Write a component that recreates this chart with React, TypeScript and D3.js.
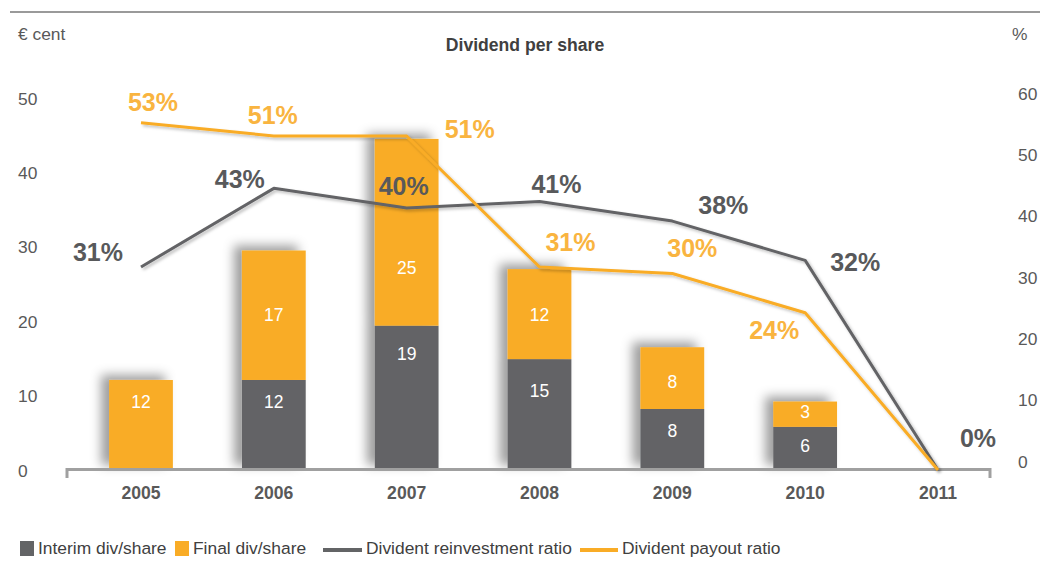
import React from 'react';
import * as d3 from 'd3';

const years = ['2005', '2006', '2007', '2008', '2009', '2010', '2011'];
const interimDiv = [0, 12.1, 19.4, 14.9, 8.2, 5.8, 0];
const finalDiv = [12.1, 17.4, 25.1, 12.1, 8.3, 3.4, 0];
const reinvestmentRatio = [31, 43, 40, 41, 38, 32, 0];
const payoutRatio = [53, 51, 51, 31, 30, 24, 0];
const leftTicks = [0, 10, 20, 30, 40, 50];
const rightTicks = [0, 10, 20, 30, 40, 50, 60];

// layout nudges for labels (not data)
const interimLabelDy = [0, -22, -42, -22, -7, -1, 0];
const finalLabelDy = [-22, 1, 37, 2, 5, -1, 0];
const reinvLabelOffset: ([number, number] | null)[] = [[-43, -13], [-34, -7], [-3, -20], [17, -15], [51, -14], [50, 4], [40, -30]];
const payoutLabelOffset: ([number, number] | null)[] = [[12, -18], [-1, -19], [63, -5], [31, -23], [20, -23], [-31, 20], null];

const GRAY = '#636466';
const ORANGE = '#F9AC26';
const ORANGE_TXT = '#F9B440';
const GRAY_TXT = '#58595B';
const AXIS_TXT = '#595959';
const FONT = '"Liberation Sans", Arial, sans-serif';

export default function App() {
  const W = 1040, H = 571;
  const x = d3.scalePoint<string>().domain(years).range([141, 938]);
  const step = x.step();
  const bw = step * 0.48;
  const yLeft = d3.scaleLinear().domain([0, 50]).range([470, 98]);
  const yPct = d3.scaleLinear().domain([0, 60]).range([470, 77]);
  const yRightTicks = d3.scaleLinear().domain([0, 60]).range([463, 95]);

  const line = d3.line<number>()
    .x((_, i) => x(years[i]) as number)
    .y((v) => yPct(v));

  return (
    <div style={{ position: 'absolute', left: 0, top: 0 }}>
      <svg width={W} height={H} style={{ display: 'block', fontFamily: FONT }}>
        <defs>
          <filter id="barShadow" x="-50%" y="-50%" width="200%" height="200%">
            <feDropShadow dx={-8} dy={-5} stdDeviation={5.5} floodColor="#000" floodOpacity={0.38} />
          </filter>
          <filter id="lineShadow" x="-10%" y="-10%" width="120%" height="120%">
            <feDropShadow dx={2} dy={2} stdDeviation={1.5} floodColor="#000" floodOpacity={0.25} />
          </filter>
        </defs>
        <rect x={0} y={0} width={W} height={H} fill="#fff" />
        <line x1={10} x2={1040} y1={12} y2={12} stroke="#9a9a9a" strokeWidth={2} />

        <text x={18} y={35} fontSize={17.4} fill={AXIS_TXT} dominantBaseline="middle">€ cent</text>
        <text x={1012} y={35} fontSize={17.4} fill={AXIS_TXT} dominantBaseline="middle">%</text>
        <text x={525} y={46} fontSize={17.6} fontWeight="bold" fill="#404040" textAnchor="middle" dominantBaseline="middle">Dividend per share</text>

        {leftTicks.map((t) => (
          <text key={'l' + t} x={18} y={yLeft(t) + 2} fontSize={17.4} fill={AXIS_TXT} dominantBaseline="middle">{t}</text>
        ))}
        {rightTicks.map((t) => (
          <text key={'r' + t} x={1018} y={yRightTicks(t)} fontSize={17.4} fill={AXIS_TXT} dominantBaseline="middle">{t}</text>
        ))}

        {years.map((yr, i) => {
          const cx = x(yr) as number;
          const total = interimDiv[i] + finalDiv[i];
          if (total <= 0) return null;
          return (
            <g key={'b' + yr} filter="url(#barShadow)">
              {interimDiv[i] > 0 && (
                <rect x={cx - bw / 2} y={yLeft(interimDiv[i])} width={bw} height={yLeft(0) - yLeft(interimDiv[i])} fill={GRAY} />
              )}
              {finalDiv[i] > 0 && (
                <rect x={cx - bw / 2} y={yLeft(total)} width={bw} height={yLeft(interimDiv[i]) - yLeft(total)} fill={ORANGE} />
              )}
            </g>
          );
        })}

        {years.map((yr, i) => {
          const cx = x(yr) as number;
          const total = interimDiv[i] + finalDiv[i];
          return (
            <g key={'bl' + yr}>
              {interimDiv[i] > 0 && (
                <text x={cx} y={(yLeft(0) + yLeft(interimDiv[i])) / 2 + interimLabelDy[i]} fontSize={17.5} fill="#fff" textAnchor="middle" dominantBaseline="middle">
                  {Math.round(interimDiv[i])}
                </text>
              )}
              {finalDiv[i] > 0 && (
                <text x={cx} y={(yLeft(interimDiv[i]) + yLeft(total)) / 2 + finalLabelDy[i]} fontSize={17.5} fill="#fff" textAnchor="middle" dominantBaseline="middle">
                  {Math.round(finalDiv[i])}
                </text>
              )}
            </g>
          );
        })}

        {/* x axis */}
        <line x1={67} x2={990} y1={469.5} y2={469.5} stroke="#a0a0a0" strokeWidth={3} />
        <line x1={67} x2={67} y1={468} y2={478} stroke="#a0a0a0" strokeWidth={3} />
        <line x1={990} x2={990} y1={468} y2={478} stroke="#a0a0a0" strokeWidth={3} />
        {years.map((yr) => (
          <text key={'x' + yr} x={x(yr) as number} y={494} fontSize={17.6} fontWeight="bold" fill={AXIS_TXT} textAnchor="middle" dominantBaseline="middle">{yr}</text>
        ))}

        {/* lines */}
        <path d={line(reinvestmentRatio) || ''} fill="none" stroke={GRAY} strokeWidth={3} strokeLinejoin="round" filter="url(#lineShadow)" />
        <path d={line(payoutRatio) || ''} fill="none" stroke={ORANGE} strokeWidth={3} strokeLinejoin="round" filter="url(#lineShadow)" />

        {reinvestmentRatio.map((v, i) => {
          const o = reinvLabelOffset[i];
          if (!o) return null;
          return (
            <text key={'rl' + i} x={(x(years[i]) as number) + o[0]} y={yPct(v) + o[1]} fontSize={25} fontWeight="bold" fill={GRAY_TXT} textAnchor="middle" dominantBaseline="middle">{v}%</text>
          );
        })}
        {payoutRatio.map((v, i) => {
          const o = payoutLabelOffset[i];
          if (!o) return null;
          return (
            <text key={'pl' + i} x={(x(years[i]) as number) + o[0]} y={yPct(v) + o[1]} fontSize={25} fontWeight="bold" fill={ORANGE_TXT} textAnchor="middle" dominantBaseline="middle">{v}%</text>
          );
        })}

        {/* legend */}
        <g fontSize={17.4} fill="#404040">
          <rect x={20} y={541} width={14} height={15} fill={GRAY} />
          <text x={38} y={549} dominantBaseline="middle">Interim div/share</text>
          <rect x={175} y={541} width={14} height={15} fill={ORANGE} />
          <text x={193} y={549} dominantBaseline="middle">Final div/share</text>
          <rect x={323} y={548} width={39} height={4} fill={GRAY} />
          <text x={366} y={549} dominantBaseline="middle">Divident reinvestment ratio</text>
          <rect x={580} y={548} width={38} height={4} fill={ORANGE} />
          <text x={622} y={549} dominantBaseline="middle">Divident payout ratio</text>
        </g>
      </svg>
    </div>
  );
}
